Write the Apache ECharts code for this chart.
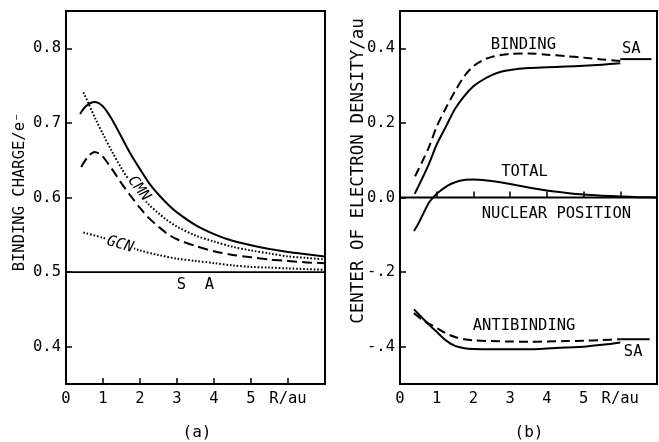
<!DOCTYPE html>
<html>
<head>
<meta charset="utf-8">
<script src="https://cdn.jsdelivr.net/npm/echarts@6/dist/echarts.min.js"></script>
<style>
  html, body { margin: 0; padding: 0; background: #fff; }
  #chart { width: 659px; height: 442px; }
</style>
</head>
<body>
<div id="chart"></div>
<script>
// ---- panel (a): binding charge vs internuclear distance R ----
const bindingChargeExact = [[0.38,0.712],[0.55,0.723],[0.77,0.728],[1.0,0.722],[1.25,0.704],[1.5,0.681],[1.75,0.658],[2.0,0.638],[2.25,0.619],[2.5,0.604],[2.75,0.591],[3.0,0.580],[3.5,0.563],[4.0,0.551],[4.5,0.542],[5.0,0.536],[5.5,0.531],[6.0,0.527],[6.5,0.524],[7.0,0.521]];
const bindingChargeCMN = [[0.47,0.741],[0.6,0.727],[0.8,0.705],[1.0,0.685],[1.25,0.661],[1.5,0.639],[1.75,0.620],[2.0,0.604],[2.25,0.590],[2.5,0.579],[2.75,0.569],[3.0,0.561],[3.5,0.549],[4.0,0.541],[4.5,0.534],[5.0,0.529],[5.5,0.525],[6.0,0.521],[6.5,0.519],[7.0,0.517]];
const bindingChargeDashed = [[0.41,0.641],[0.6,0.655],[0.77,0.661],[0.95,0.657],[1.1,0.648],[1.3,0.634],[1.5,0.619],[1.75,0.602],[2.0,0.586],[2.25,0.572],[2.5,0.561],[2.75,0.551],[3.0,0.544],[3.5,0.535],[4.0,0.528],[4.5,0.523],[5.0,0.520],[5.5,0.517],[6.0,0.515],[6.5,0.513],[7.0,0.512]];
const bindingChargeGCN = [[0.47,0.553],[1.0,0.546],[1.5,0.538],[2.0,0.529],[2.5,0.523],[3.0,0.518],[3.5,0.515],[4.0,0.512],[4.5,0.509],[5.0,0.507],[5.5,0.506],[6.0,0.505],[7.0,0.503]];
const separatedAtomsA = [[0, 0.5], [7, 0.5]];

// ---- panel (b): center of electron density vs R ----
const bindingSolid = [[0.4,0.01],[0.6,0.05],[0.8,0.093],[1.0,0.142],[1.25,0.19],[1.5,0.238],[1.75,0.272],[2.0,0.298],[2.25,0.315],[2.5,0.328],[2.75,0.337],[3.0,0.342],[3.5,0.347],[4.0,0.349],[4.5,0.351],[5.0,0.353],[5.5,0.356],[6.0,0.360]];
const bindingDashed = [[0.41,0.057],[0.6,0.095],[0.8,0.138],[1.0,0.19],[1.25,0.24],[1.5,0.285],[1.75,0.325],[2.0,0.352],[2.25,0.368],[2.5,0.377],[2.75,0.382],[3.0,0.385],[3.5,0.386],[4.0,0.383],[4.5,0.379],[5.0,0.375],[5.5,0.370],[6.0,0.366]];
const totalDensity = [[0.38,-0.09],[0.5,-0.07],[0.65,-0.04],[0.8,-0.012],[0.95,0.005],[1.1,0.018],[1.3,0.032],[1.5,0.041],[1.75,0.047],[2.0,0.048],[2.25,0.047],[2.5,0.044],[3.0,0.036],[3.5,0.027],[4.0,0.019],[4.5,0.013],[5.0,0.008],[5.5,0.005],[6.0,0.003],[6.5,0.001],[7.0,0.0]];
const antibindingSolid = [[0.38,-0.30],[0.6,-0.322],[0.8,-0.342],[1.0,-0.36],[1.25,-0.383],[1.5,-0.398],[1.75,-0.404],[2.0,-0.406],[2.5,-0.407],[3.0,-0.407],[3.5,-0.407],[4.0,-0.405],[4.5,-0.402],[5.0,-0.400],[5.5,-0.395],[6.0,-0.389]];
const antibindingDashed = [[0.38,-0.31],[0.6,-0.327],[0.8,-0.339],[1.0,-0.35],[1.25,-0.364],[1.5,-0.374],[1.75,-0.380],[2.0,-0.383],[2.5,-0.385],[3.0,-0.386],[3.5,-0.387],[4.0,-0.386],[4.5,-0.385],[5.0,-0.384],[5.5,-0.382],[6.0,-0.380]];
const nuclearPosition = [[0, 0], [7, 0]];
const separatedAtomsBindingLimit = [[6.0, 0.371], [6.85, 0.371]];
const separatedAtomsAntibindingLimit = [[6.0, -0.380], [6.8, -0.380]];

// ---- axis ticks ----
const xTickValues = [1, 2, 3, 4, 5, 6];
const xLabelValues = [0, 1, 2, 3, 4, 5, 6];
const xLabelText = ['0', '1', '2', '3', '4', '5', 'R/au'];
const yTickValuesA = [0.4, 0.5, 0.6, 0.7, 0.8];
const yLabelTextA = ['0.4', '0.5', '0.6', '0.7', '0.8'];
const yTickValuesB = [-0.4, -0.2, 0, 0.2, 0.4];
const yLabelTextB = ['-.4', '-.2', '0.0', '0.2', '0.4'];

const FONT = 'DejaVu Sans Mono';
const FS = 15.5;
const INK = '#000';

function labelFor(values, texts) {
  return function (v) {
    for (let i = 0; i < values.length; i++) {
      if (Math.abs(values[i] - v) < 1e-6) return texts[i];
    }
    return '';
  };
}

function xAxisFor(gridIndex) {
  return {
    gridIndex, type: 'value', min: 0, max: 7, interval: 1,
    axisLine: { show: false },
    splitLine: { show: false },
    axisTick: { show: true, inside: true, length: 6, customValues: xTickValues, lineStyle: { color: INK, width: 1.5 } },
    axisLabel: { show: true, customValues: xLabelValues, formatter: labelFor(xLabelValues, xLabelText), margin: 7, color: INK, fontFamily: FONT, fontSize: FS }
  };
}

function yAxisFor(gridIndex, min, max, ticks, texts) {
  return {
    gridIndex, type: 'value', min, max,
    axisLine: { show: false },
    splitLine: { show: false },
    axisTick: { show: true, inside: true, length: 6, customValues: ticks, lineStyle: { color: INK, width: 1.5 } },
    axisLabel: { show: true, customValues: ticks, formatter: labelFor(ticks, texts), margin: 5, color: INK, fontFamily: FONT, fontSize: FS }
  };
}

function curve(name, data, axis, type, width, smooth) {
  return {
    name, type: 'line', data,
    xAxisIndex: axis, yAxisIndex: axis,
    showSymbol: false, symbol: 'none',
    smooth: smooth === undefined ? 0.3 : smooth,
    lineStyle: { color: INK, width, type, cap: 'butt', join: 'round' },
    silent: true, z: 3
  };
}

function note(coord, text, extra) {
  return {
    coord, symbol: 'circle', symbolSize: 0,
    label: Object.assign({
      show: true, position: 'inside', formatter: text,
      color: INK, fontFamily: FONT, fontSize: FS
    }, extra || {})
  };
}

const dotted = [1.6, 1.9];
const longDashA = [10, 5];
const dashB = [9, 5];

const option = {
  animation: false,
  backgroundColor: '#fff',
  grid: [
    { left: 66, top: 11, width: 259, height: 373, show: true, borderColor: INK, borderWidth: 2, backgroundColor: 'transparent' },
    { left: 400, top: 11, width: 257, height: 373, show: true, borderColor: INK, borderWidth: 2, backgroundColor: 'transparent' }
  ],
  xAxis: [xAxisFor(0), xAxisFor(1)],
  yAxis: [
    yAxisFor(0, 0.35, 0.85, yTickValuesA, yLabelTextA),
    yAxisFor(1, -0.5, 0.5, yTickValuesB, yLabelTextB)
  ],
  series: [
    // panel (a)
    Object.assign(curve('SA', separatedAtomsA, 0, 'solid', 1.8, false), {
      markPoint: { silent: true, data: [ note([3.5, 0.483], 'S  A') ] }
    }),
    curve('exact', bindingChargeExact, 0, 'solid', 2),
    Object.assign(curve('CMN', bindingChargeCMN, 0, dotted, 2), {
      markPoint: { silent: true, data: [
        note([1.97, 0.612], 'CMN', { rotate: -52, fontStyle: 'italic', fontSize: 15, backgroundColor: '#fff', padding: [0, 1] })
      ] }
    }),
    curve('dashed', bindingChargeDashed, 0, longDashA, 2),
    Object.assign(curve('GCN', bindingChargeGCN, 0, dotted, 2), {
      markPoint: { silent: true, data: [
        note([1.46, 0.537], 'GCN', { rotate: -16, fontStyle: 'italic', fontSize: 15, backgroundColor: '#fff', padding: [0, 1] })
      ] }
    }),

    // panel (b)
    Object.assign(curve('nuclear', nuclearPosition, 1, 'solid', 1.8, false), {
      markPoint: { silent: true, data: [
        note([4.26, -0.045], 'NUCLEAR POSITION'),
        note([3.39, 0.068], 'TOTAL'),
        note([3.36, 0.409], 'BINDING'),
        note([3.38, -0.345], 'ANTIBINDING'),
        note([6.3, 0.397], 'SA'),
        note([6.35, -0.413], 'SA')
      ] }
    }),
    curve('bindingSolid', bindingSolid, 1, 'solid', 2),
    curve('bindingDashed', bindingDashed, 1, dashB, 2),
    curve('total', totalDensity, 1, 'solid', 2),
    curve('antiSolid', antibindingSolid, 1, 'solid', 2),
    curve('antiDashed', antibindingDashed, 1, dashB, 2),
    curve('saBinding', separatedAtomsBindingLimit, 1, 'solid', 2, false),
    curve('saAntibinding', separatedAtomsAntibindingLimit, 1, 'solid', 2, false)
  ],
  graphic: [
    { type: 'text', x: 20, y: 192, rotation: Math.PI / 2,
      style: { text: 'BINDING CHARGE/e\u207B', fill: INK, font: FS + 'px "' + FONT + '"', align: 'center', verticalAlign: 'middle' } },
    { type: 'text', x: 358, y: 171, rotation: Math.PI / 2,
      style: { text: 'CENTER OF ELECTRON DENSITY/au', fill: INK, font: '17.5px "' + FONT + '"', align: 'center', verticalAlign: 'middle' } },
    { type: 'text', x: 197, y: 433,
      style: { text: '(a)', fill: INK, font: '16px "' + FONT + '"', align: 'center', verticalAlign: 'middle' } },
    { type: 'text', x: 529, y: 433,
      style: { text: '(b)', fill: INK, font: '16px "' + FONT + '"', align: 'center', verticalAlign: 'middle' } }
  ]
};

const chart = echarts.init(document.getElementById('chart'), null, { renderer: 'canvas' });
chart.setOption(option);
</script>
</body>
</html>
